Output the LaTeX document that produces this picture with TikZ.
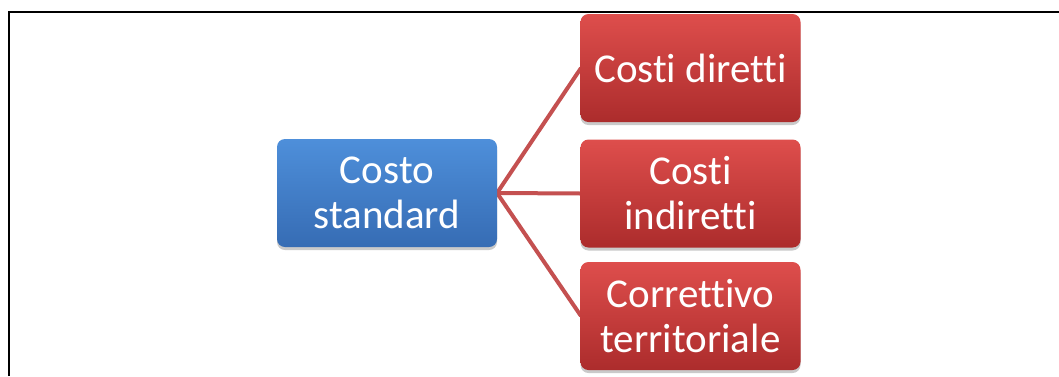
\documentclass[tikz,border=0pt]{standalone}
\usepackage{fontspec}
\setmainfont{Carlito}[Ligatures={NoCommon,NoRare}]
\usetikzlibrary{shadows}
\definecolor{blueTop}{RGB}{78,143,218}
\definecolor{blueBot}{RGB}{54,108,180}
\definecolor{redTop}{RGB}{222,78,76}
\definecolor{redBot}{RGB}{172,44,44}
\definecolor{linkRed}{RGB}{196,80,80}
\tikzset{
  box/.style={rectangle, rounded corners=8pt, minimum width=220pt, minimum height=108pt,
    inner sep=0pt, align=center, text=white,
    font=\fontsize{41}{45}\selectfont,
    drop shadow={shadow xshift=0pt, shadow yshift=-3pt, opacity=0.35, fill=black!60}},
  rootbox/.style={box, top color=blueTop, bottom color=blueBot},
  leafbox/.style={box, top color=redTop, bottom color=redBot},
  link/.style={draw=linkRed, line width=4pt},
  frame/.style={draw=black, line width=2.6pt}
}
\begin{document}
\begin{tikzpicture}[x=1pt, y=-1pt]
  \useasboundingbox (0,0) rectangle (1059,376);
  % open frame: left and top edges
  \draw[frame] (9,376) -- (9,12) -- (1059,12);
  % connectors first, so the boxes sit on top
  \coordinate (hub) at (497,193);
  \coordinate (inA) at (581,68);
  \coordinate (inB) at (581,193.5);
  \coordinate (inC) at (581,316);
  \draw[link] (hub) -- (inA);
  \draw[link] (hub) -- (inB);
  \draw[link] (hub) -- (inC);
  % boxes
  \node[rootbox] (root) at (387,193) {Costo\\standard};
  \node[leafbox] (dir) at (690.5,68) {Costi diretti};
  \node[leafbox] (ind) at (690.5,193.5) {Costi\\indiretti};
  \node[leafbox] (cor) at (690.5,316) {Correttivo\\territoriale};
\end{tikzpicture}
\end{document}
